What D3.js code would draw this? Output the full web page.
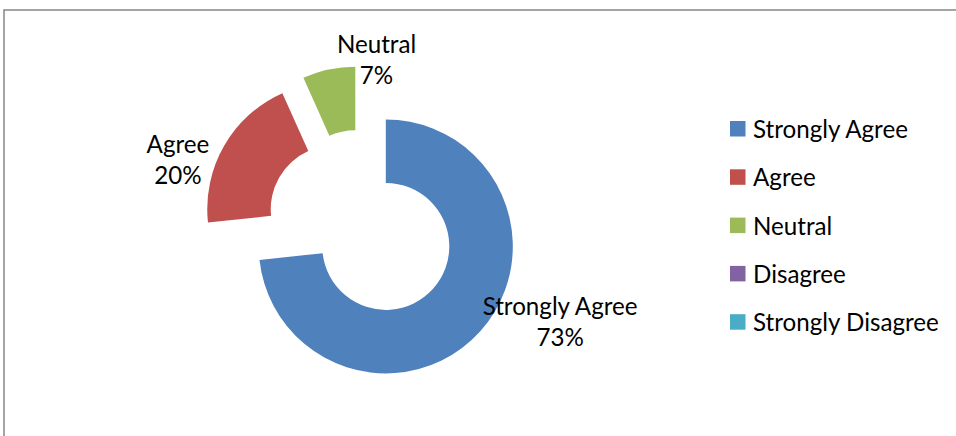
<!DOCTYPE html>
<html>
<head>
<meta charset="utf-8">
<script src="https://cdn.jsdelivr.net/npm/d3@7"></script>
<style>
  html, body { margin: 0; padding: 0; background: #fff; }
  svg { display: block; }
  text { font-family: Lato, "Open Sans", sans-serif; fill: #000; }
</style>
</head>
<body>
<svg id="chart" width="956" height="436"></svg>
<script>
// ---- data ----
const categories = ["Strongly Agree", "Agree", "Neutral", "Disagree", "Strongly Disagree"];
const values = [73.3, 20.0, 6.7, 0, 0];
const colors = ["#4F81BD", "#C0504D", "#9BBB59", "#8064A2", "#4BACC6"];

// ---- layout ----
const W = 956, H = 436;
const cx = 362, cy = 225;           // donut centre before explosion
const outerR = 127, innerR = 63.5;
const explode = 32;
// label placement (polar from each exploded slice's centre: angle in degrees, radius px)
const labelPolar = [[115.8, 193.6], [284.7, 161.6], [9.6, 127.2], [0, 0], [0, 0]];
const lineGap = 31;

const svg = d3.select("#chart");

// frame
svg.append("path")
  .attr("d", `M4,${H + 5} L4,10 L${W + 5},10`)
  .attr("fill", "none").attr("stroke", "#868686").attr("stroke-width", 1.5);

// fit font so that "Strongly Agree" is ~155px wide
const probe = svg.append("text").attr("font-size", 20).text("Strongly Agree");
const fs = 20 * 155 / probe.node().getComputedTextLength();
probe.remove();

const pie = d3.pie().value(d => d.v).sort(null);
const arcs = pie(categories.map((c, i) => ({ c, v: values[i], i })));
const arc = d3.arc().innerRadius(innerR).outerRadius(outerR);

const g = svg.append("g").attr("transform", `translate(${cx},${cy})`);

const slices = arcs.filter(a => a.data.v > 0);
slices.forEach(a => {
  const mid = (a.startAngle + a.endAngle) / 2;
  const ox = explode * Math.sin(mid), oy = -explode * Math.cos(mid);
  const sg = g.append("g").attr("transform", `translate(${ox},${oy})`);
  sg.append("path").attr("d", arc(a)).attr("fill", colors[a.data.i]);

  const lp = labelPolar[a.data.i];
  const la = lp[0] * Math.PI / 180;
  const lx = lp[1] * Math.sin(la), ly = -lp[1] * Math.cos(la);
  const pct = Math.round(a.data.v / d3.sum(values) * 100) + "%";
  const t = sg.append("text").attr("text-anchor", "middle").attr("font-size", fs);
  t.append("tspan").attr("x", lx).attr("y", ly - lineGap / 2).text(a.data.c);
  t.append("tspan").attr("x", lx).attr("y", ly + lineGap / 2).text(pct);
});

// legend
const legX = 730, legY = 121, legStep = 48.3, sq = 15.5;
const leg = svg.append("g");
categories.forEach((c, i) => {
  const y = legY + i * legStep;
  leg.append("rect").attr("x", legX).attr("y", y).attr("width", sq).attr("height", sq)
    .attr("fill", colors[i]);
  leg.append("text").attr("x", legX + 23).attr("y", y + sq + 1.5)
    .attr("font-size", fs).text(c);
});
</script>
</body>
</html>
